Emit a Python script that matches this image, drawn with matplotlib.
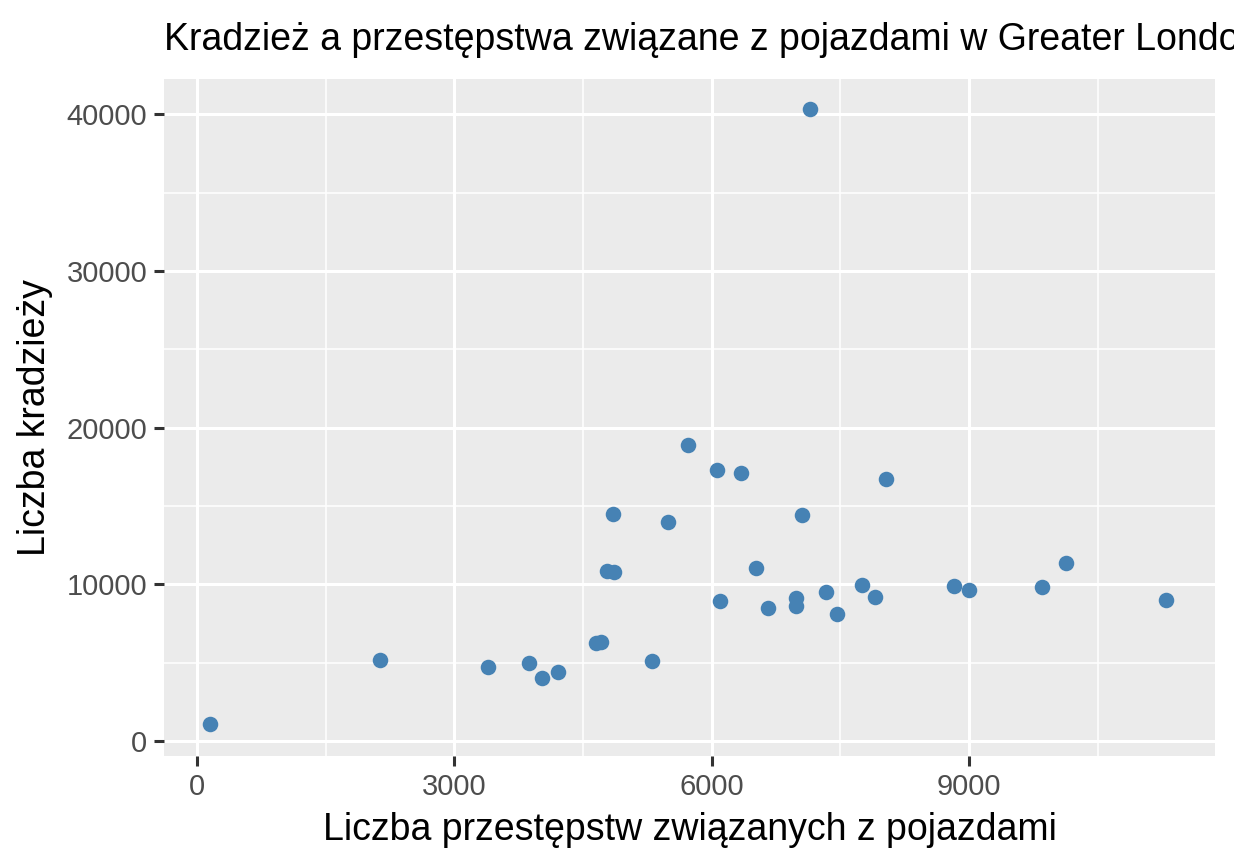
import numpy as np
import matplotlib.pyplot as plt
from matplotlib.ticker import MultipleLocator

# pojazdy (x) vs kradzieze (y), boroughs of Greater London
vehicle = [152, 2136, 3397, 3875, 4027, 4214, 4657, 4716, 4786, 4867, 4856,
           5311, 5486, 5720, 6058, 6093, 6338, 6513, 6653, 6980, 6980, 7050,
           7144, 7330, 7459, 7750, 7902, 8031, 8824, 8999, 9852, 10132, 11299]
theft = [1085, 5167, 4721, 4976, 4019, 4402, 6252, 6316, 10845, 10781, 14482,
         5104, 13971, 18883, 17289, 8931, 17097, 11037, 8485, 9123, 8612, 14418,
         40319, 9506, 8102, 9952, 9187, 16714, 9888, 9633, 9824, 11356, 8995]

xticks = [0, 3000, 6000, 9000]
yticks = [0, 10000, 20000, 30000, 40000]

plt.rcParams['font.family'] = ['Liberation Sans', 'DejaVu Sans']

fig = plt.figure(figsize=(12.34, 8.64), dpi=100)
ax = fig.add_axes([164/1234, 1-756/864, (1215-164)/1234, (756-79)/864])
ax.set_facecolor('#EBEBEB')
for s in ax.spines.values():
    s.set_visible(False)

ax.scatter(vehicle, theft, s=125, color='#4682B4', zorder=3, linewidths=0)

ax.set_xlim(-385, 11870)
ax.set_ylim(-950, 42250)
ax.set_xticks(xticks)
ax.set_yticks(yticks)
ax.xaxis.set_minor_locator(MultipleLocator(1500))
ax.yaxis.set_minor_locator(MultipleLocator(5000))
ax.grid(which='major', color='white', linewidth=2.2, zorder=0)
ax.grid(which='minor', color='white', linewidth=1.1, zorder=0)
ax.set_axisbelow(True)
ax.tick_params(which='major', length=7, width=2.2, color='#333333',
               labelsize=21, labelcolor='#4D4D4D', pad=5)
ax.tick_params(which='minor', length=0)

ax.set_xlabel('Liczba przestępstw związanych z pojazdami', fontsize=27, labelpad=8)
ax.set_ylabel('Liczba kradzieży', fontsize=27, labelpad=10)
# title runs past the right edge in the original too
fig.text(164/1234, 1-40/864, 'Kradzież a przestępstwa związane z pojazdami w Greater London',
         fontsize=27, va='center', ha='left')

fig.savefig('out.png', dpi=100, facecolor='white')
